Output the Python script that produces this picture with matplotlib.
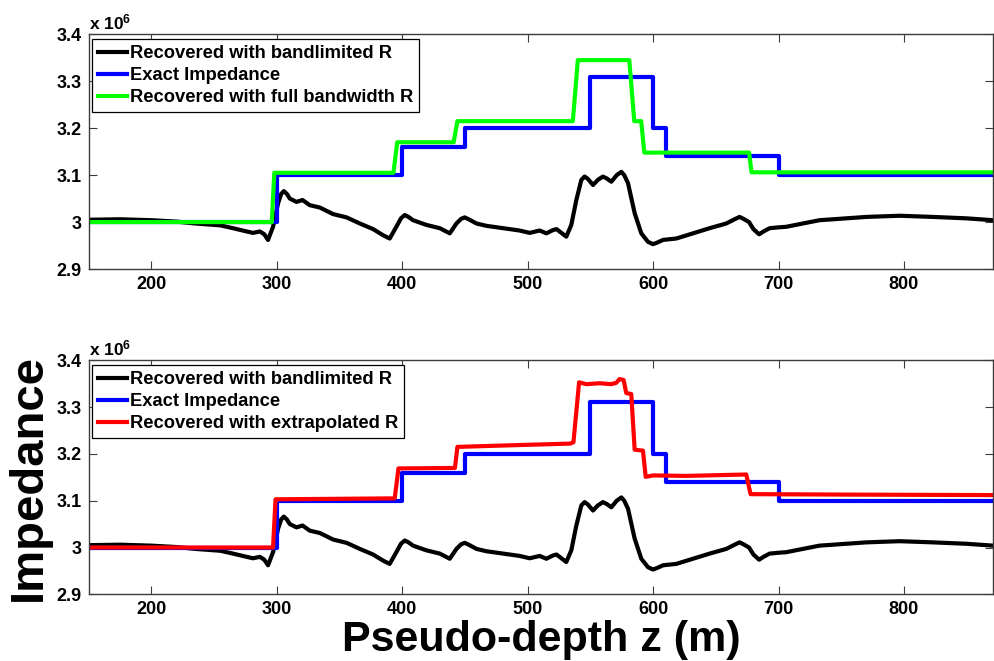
import matplotlib
matplotlib.use("Agg")
import matplotlib.pyplot as plt
from matplotlib.ticker import FuncFormatter

plt.rcParams['font.family'] = ['Liberation Sans', 'DejaVu Sans']
plt.rcParams['font.weight'] = 'bold'
plt.rcParams['mathtext.default'] = 'regular'

# Impedance values in units of 1e6
# Recovered impedance from band-limited reflectivity
black_z = [150, 175, 200, 220, 235, 245, 255, 265, 276, 281, 286.5, 290, 293, 297, 301,
           303.5, 305.6, 308, 310.4, 315.7, 320.5, 326.3, 334.3, 344.9, 355.6, 366.2,
           376.8, 384.7, 390, 395.3, 399, 402, 405, 408.6, 419.2, 429.9, 437.9, 443.2,
           447, 449.8, 453, 459.2, 467.1, 480.4, 493.6, 501.6, 509.6, 514.9, 520.2, 523,
           530.8, 534.8, 538.8, 542.8, 545.4, 548, 552.1, 556, 560, 563, 566.7, 571,
           574.7, 577, 580, 585.3, 590.6, 595.9, 599.9, 603, 607.9, 618.5, 631.8, 645.1,
           658.3, 665, 668.9, 672, 676.5, 680, 684.5, 688, 692.9, 701, 706.2, 719.4,
           732.7, 743.5, 770, 796.5, 823, 849.6, 871]
black_v = [3.005, 3.006, 3.004, 3.001, 2.997, 2.995, 2.993, 2.987, 2.980, 2.977, 2.980,
           2.974, 2.962, 2.990, 3.040, 3.060, 3.066, 3.060, 3.050, 3.043, 3.047, 3.036,
           3.031, 3.017, 3.010, 2.997, 2.985, 2.972, 2.965, 2.990, 3.008, 3.015, 3.011,
           3.004, 2.994, 2.987, 2.976, 2.997, 3.007, 3.010, 3.006, 2.997, 2.992, 2.987,
           2.982, 2.977, 2.982, 2.976, 2.983, 2.985, 2.969, 2.994, 3.047, 3.090, 3.097,
           3.092, 3.079, 3.090, 3.097, 3.093, 3.086, 3.100, 3.107, 3.100, 3.083, 3.019,
           2.976, 2.958, 2.953, 2.956, 2.962, 2.965, 2.976, 2.987, 2.997, 3.006, 3.011,
           3.007, 3.000, 2.985, 2.974, 2.980, 2.987, 2.989, 2.990, 2.997, 3.004, 3.006,
           3.011, 3.0135, 3.011, 3.008, 3.004]

# Exact (true) impedance, piecewise constant: layer tops and values
exact_z = [150, 300, 400, 450, 550, 600, 610, 700, 871]
exact_v = [3.000, 3.100, 3.160, 3.200, 3.310, 3.200, 3.140, 3.100, 3.100]

# Recovered with full-bandwidth reflectivity
full_z = [150, 296, 298, 393, 396, 441, 444, 536, 540, 581, 585, 590.5, 593, 676.5, 678.5, 871]
full_v = [3.000, 3.000, 3.105, 3.105, 3.170, 3.170, 3.215, 3.215, 3.345, 3.345, 3.215,
          3.215, 3.148, 3.148, 3.106, 3.106]

# Recovered with extrapolated reflectivity
extr_z = [150, 297, 299, 394, 397, 442, 444, 494, 534, 536.5, 541, 546.8, 557.4, 566.7,
          570.7, 573.3, 576.5, 578.6, 582.6, 585.3, 591.9, 594.1, 600, 626.5, 674.3,
          677.7, 760, 871]
extr_v = [3.000, 3.000, 3.103, 3.105, 3.169, 3.170, 3.215, 3.219, 3.222, 3.225, 3.353,
          3.349, 3.351, 3.349, 3.352, 3.360, 3.358, 3.330, 3.328, 3.209, 3.207, 3.151,
          3.154, 3.153, 3.156, 3.114, 3.113, 3.112]

x_ticks = [200, 300, 400, 500, 600, 700, 800]
y_ticks = [2.9, 3.0, 3.1, 3.2, 3.3, 3.4]
x_range = (150, 871)
y_range = (2.9, 3.4)

labels_top = ['Recovered with bandlimited R', 'Exact Impedance',
              'Recovered with full bandwidth R']
labels_bot = ['Recovered with bandlimited R', 'Exact Impedance',
              'Recovered with extrapolated R']

fig = plt.figure(figsize=(9.94, 6.61), dpi=100)
ax1 = fig.add_axes([0.0892, 0.5930, 0.9098, 0.3551])
ax2 = fig.add_axes([0.0892, 0.1009, 0.9098, 0.3540])

LW = 3.0
spine_c = '#3c3c3c'


def style(ax):
    ax.set_xlim(*x_range)
    ax.set_ylim(*y_range)
    ax.set_xticks(x_ticks)
    ax.set_yticks(y_ticks)
    ax.yaxis.set_major_formatter(FuncFormatter(lambda v, p: f'{v:g}'))
    ax.tick_params(direction='in', length=6, width=0.8, color=spine_c,
                   top=True, right=True, labelsize=13, pad=5)
    for lab in ax.get_xticklabels() + ax.get_yticklabels():
        lab.set_fontweight('bold')
    for s in ax.spines.values():
        s.set_color(spine_c)
        s.set_linewidth(1.0)
    ax.text(0.0, 1.022, r'x 10$^{6}$', transform=ax.transAxes, fontsize=12.5,
            fontweight='bold', ha='left', va='baseline')


def legend(ax, labels):
    leg = ax.legend(labels, loc='upper left', bbox_to_anchor=(0.004, 0.979),
                    borderaxespad=0, fancybox=False, edgecolor='black',
                    framealpha=1, prop={'weight': 'bold', 'size': 13.2},
                    handlelength=1.55, handletextpad=0.2, labelspacing=0.28,
                    borderpad=0.32)
    leg.get_frame().set_linewidth(0.9)


for ax, z2, v2, c2, labels in ((ax1, full_z, full_v, '#00ff00', labels_top),
                               (ax2, extr_z, extr_v, '#ff0000', labels_bot)):
    ax.plot(black_z, black_v, color='black', lw=LW, solid_joinstyle='round')
    ax.step(exact_z, exact_v, where='post', color='#0000ff', lw=LW)
    ax.plot(z2, v2, color=c2, lw=LW)
    style(ax)
    legend(ax, labels)

ax2.set_xlabel('Pseudo-depth z (m)', fontsize=31, fontweight='bold', labelpad=1)
ax2.set_ylabel('Impedance', fontsize=34, fontweight='bold', labelpad=4)

fig.savefig('out.png', dpi=100)
